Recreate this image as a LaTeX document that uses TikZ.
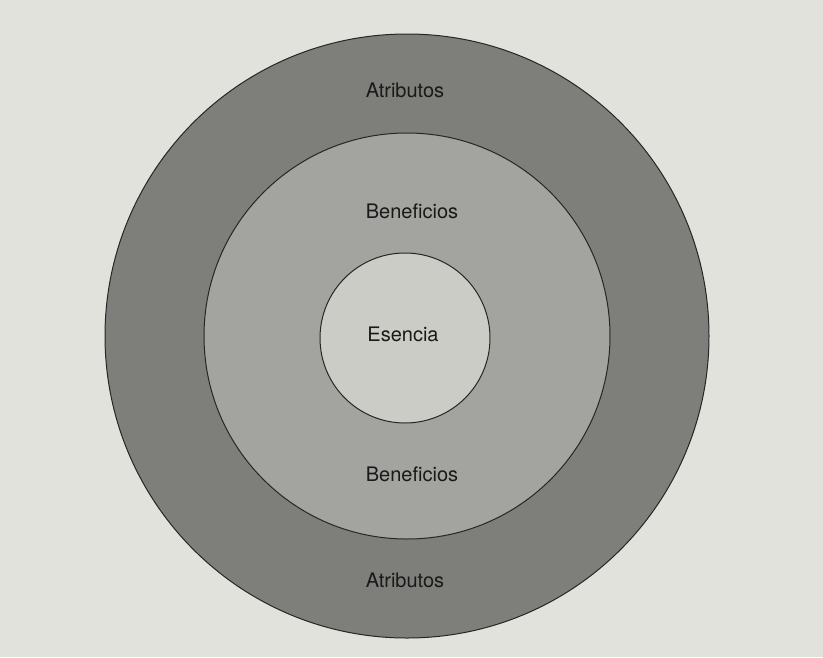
\documentclass[tikz,border=0pt]{standalone}
\usepackage{fontspec}
\setmainfont{TeX Gyre Heros}
\usepackage{tikz}
\usetikzlibrary{positioning}
\definecolor{paper}{RGB}{226,226,221}
\definecolor{ringout}{RGB}{126,126,123}
\definecolor{ringmid}{RGB}{163,163,159}
\definecolor{core}{RGB}{204,204,199}
\tikzset{
  ring/.style={line width=1pt, draw=black!85},
  label/.style={font=\fontsize{20}{24}\selectfont, text=black!90}
}

\begin{document}
\begin{tikzpicture}[x=1pt, y=-1pt, line cap=round, line join=round]
  \useasboundingbox (0,0) rectangle (823,657);
  \fill[paper] (0,0) rectangle (823,657);
  \coordinate (centre) at (407,336);
  %--- Atributos
    \draw[ring, fill=ringout] (centre) circle (302);
    \node[label] (atrtop) at (405,90) {Atributos};
    \node[label] (atrbot) at (405,580) {Atributos};
  %--- Beneficios
    \draw[ring, fill=ringmid] (centre) circle (203);
    \node[label] (bentop) at (412,211) {Beneficios};
    \node[label] (benbot) at (412,474) {Beneficios};
  %--- Esencia
    \draw[ring, fill=core] (405,338) circle (85);
    \node[label] (esencia) at (403,334) {Esencia};
\end{tikzpicture}
\end{document}
